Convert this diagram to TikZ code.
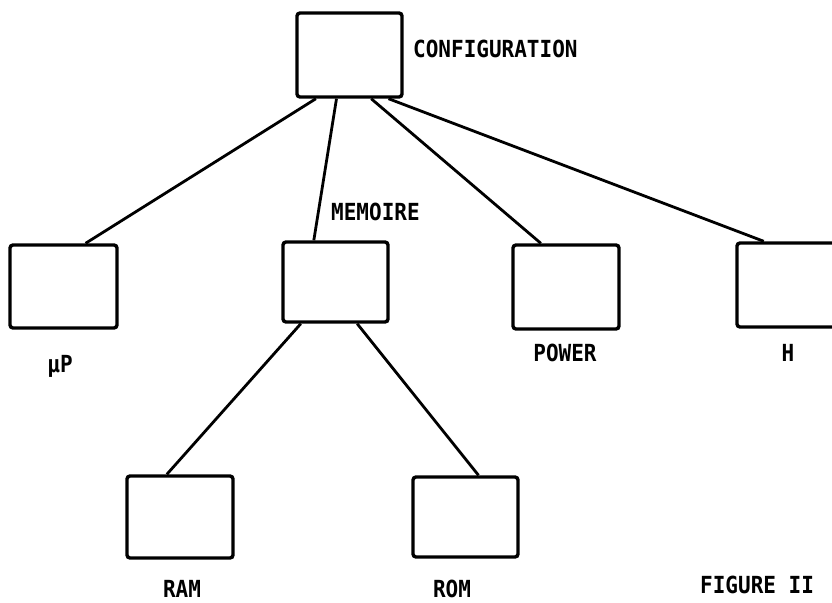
\documentclass[tikz,border=0pt]{standalone}
\usepackage{fontspec}
\newfontfamily\labfont{DejaVu Sans Mono}
\usetikzlibrary{calc}
\newcommand{\lbltxt}[1]{\scalebox{1}[1.12]{#1}}
\tikzset{
  box/.style={draw=black, line width=3.4pt, rounded corners=3pt, inner sep=0pt, fill=white},
  conn/.style={draw=black, line width=2.8pt},
  lab/.style={font=\labfont\bfseries\fontsize{21}{21}\selectfont, inner sep=0pt, text=black}
}
\begin{document}
\begin{tikzpicture}[x=1pt,y=-1pt]
\useasboundingbox (0,0) rectangle (832,602);
\clip (0,0) rectangle (832,602);
\fill[white] (0,0) rectangle (832,602);
% boxes
\node[box, minimum width=105pt, minimum height=84pt] (cfg) at (349.5,55) {};
\node[box, minimum width=107pt, minimum height=83pt] (up) at (63.5,286.5) {};
\node[box, minimum width=105pt, minimum height=80pt] (mem) at (335.5,282) {};
\node[box, minimum width=106pt, minimum height=84pt] (pow) at (566,287) {};
\node[box, minimum width=106pt, minimum height=84pt] (hh) at (790,285) {};
\node[box, minimum width=106pt, minimum height=82pt] (ram) at (180,517) {};
\node[box, minimum width=105pt, minimum height=80pt] (rom) at (465.5,517) {};
% connectors
\draw[conn] ($(cfg.south west)!0.19!(cfg.south east)$) -- ($(up.north west)!0.70!(up.north east)$);
\draw[conn] ($(cfg.south west)!0.38!(cfg.south east)$) -- ($(mem.north west)!0.30!(mem.north east)$);
\draw[conn] ($(cfg.south west)!0.70!(cfg.south east)$) -- ($(pow.north west)!0.27!(pow.north east)$);
\draw[conn] ($(cfg.south west)!0.86!(cfg.south east)$) -- ($(hh.north west)!0.26!(hh.north east)$);
\draw[conn] ($(mem.south west)!0.18!(mem.south east)$) -- ($(ram.north west)!0.38!(ram.north east)$);
\draw[conn] ($(mem.south west)!0.70!(mem.south east)$) -- ($(rom.north west)!0.62!(rom.north east)$);
% labels
\node[lab, anchor=west] (tcfg) at (413,49) {\lbltxt{CONFIGURATION}};
\node[lab, anchor=west] (tmem) at (331,212) {\lbltxt{MEMOIRE}};
\node[lab] (tup) at (60,366) {\lbltxt{µP}};
\node[lab] (tpow) at (565,353) {\lbltxt{POWER}};
\node[lab] (th) at (788,353) {\lbltxt{H}};
\node[lab] (tram) at (182,589) {\lbltxt{RAM}};
\node[lab] (trom) at (452,589) {\lbltxt{ROM}};
\node[lab, anchor=west] (tfig) at (700,585) {\lbltxt{FIGURE II}};
\end{tikzpicture}
\end{document}
